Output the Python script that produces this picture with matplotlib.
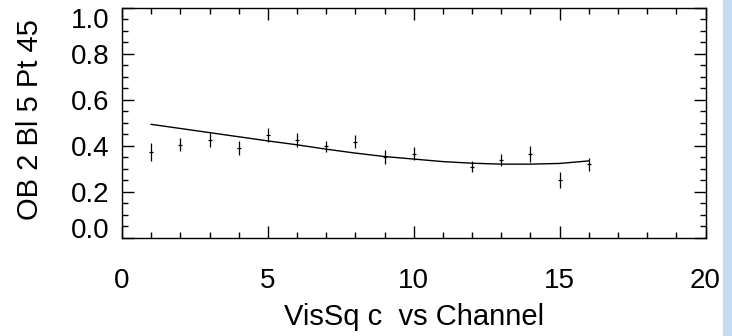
import matplotlib
matplotlib.use("Agg")
import matplotlib.pyplot as plt
from matplotlib.patches import Rectangle
from matplotlib.ticker import MultipleLocator
from matplotlib.transforms import ScaledTranslation

channels = [1, 2, 3, 4, 5, 6, 7, 8, 9, 10, 12, 13, 14, 15, 16]
vis_sq = [0.373, 0.403, 0.424, 0.389, 0.445, 0.425, 0.397, 0.416, 0.350, 0.364,
          0.307, 0.336, 0.364, 0.249, 0.318]
vis_err = [0.040, 0.029, 0.032, 0.032, 0.030, 0.030, 0.024, 0.028, 0.031, 0.029,
           0.024, 0.027, 0.034, 0.034, 0.027]

model_x = [1, 2, 3, 4, 5, 6, 7, 8, 9, 10, 11, 12, 13, 14, 15, 16]
model_y = [0.492, 0.474, 0.456, 0.438, 0.420, 0.403, 0.384, 0.367, 0.352, 0.341,
           0.330, 0.323, 0.319, 0.319, 0.322, 0.333]

x_ticks = [0, 5, 10, 15, 20]
y_ticks = [0.0, 0.2, 0.4, 0.6, 0.8, 1.0]

plt.rcParams['font.family'] = ['Liberation Sans', 'DejaVu Sans']

fig = plt.figure(figsize=(7.32, 3.36), dpi=100)
fig.patches.append(Rectangle((723 / 732, 0), 9 / 732, 1, transform=fig.transFigure,
                             facecolor='#c6dbf1', edgecolor='none', zorder=0))

ax = fig.add_axes([122 / 732, 1 - 237.5 / 336, (705.5 - 122) / 732, (237.5 - 7.5) / 336])

ax.plot(model_x, model_y, color='black', lw=1.0)
ax.errorbar(channels, vis_sq, yerr=vis_err, fmt='none', ecolor='black',
            elinewidth=0.9, capsize=0)
ax.plot(channels, vis_sq, ls='none', marker='_', ms=2.5, mew=0.9, color='black')

ax.set_xlim(0, 20)
ax.set_ylim(0, 1)
ax.set_xticks(x_ticks)
ax.set_yticks(y_ticks)
ax.set_xticklabels([str(v) for v in x_ticks])
ax.set_yticklabels([f"{v:.1f}" for v in y_ticks])
ax.xaxis.set_minor_locator(MultipleLocator(1))
ax.yaxis.set_minor_locator(MultipleLocator(0.05))

ax.tick_params(which='both', direction='in', top=True, right=True, width=1.0, color='black')
ax.tick_params(which='major', length=8.5)
ax.tick_params(which='minor', length=4.5)
ax.tick_params(axis='x', which='major', pad=22, labelsize=20)
ax.tick_params(axis='y', which='major', pad=9, labelsize=20)

shift = ScaledTranslation(0, -3 / 100, fig.dpi_scale_trans)
ylabs = ax.get_yticklabels()
ylabs[0].set_va('baseline')
ylabs[-1].set_va('top')
for lab in ylabs[1:-1]:
    lab.set_va('center')
    lab.set_transform(lab.get_transform() + shift)

for s in ax.spines.values():
    s.set_linewidth(1.0)

fig.text(413.75 / 732, 1 - 325 / 336, "VisSq c  vs Channel", fontsize=21,
         ha='center', va='baseline')
fig.text(30 / 732, 1 - 120 / 336, "OB 2 Bl 5 Pt 45", fontsize=21,
         ha='center', va='center', rotation=90)

fig.savefig("out.png", dpi=100)
